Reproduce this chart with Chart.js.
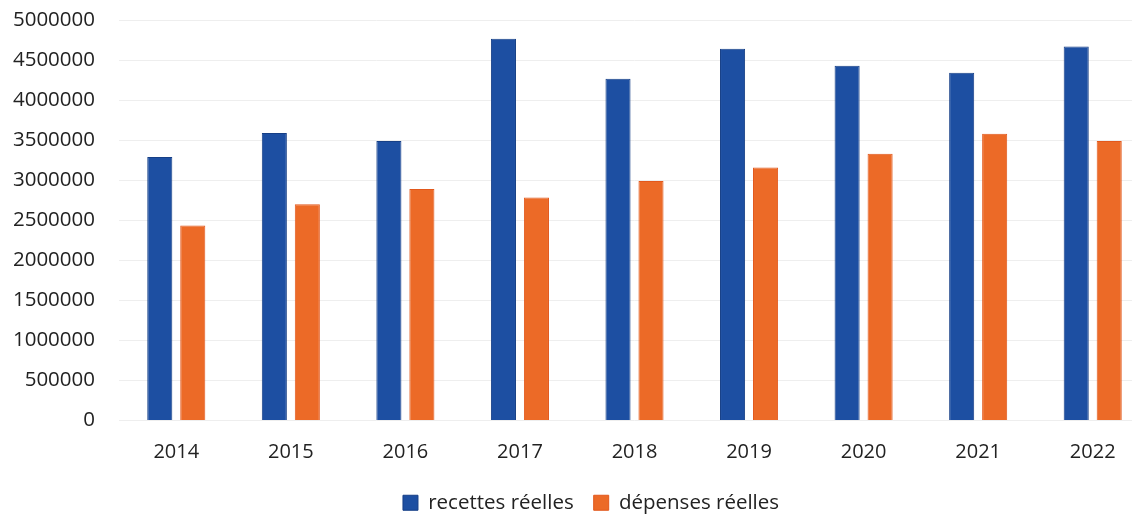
<!DOCTYPE html>
<html lang="fr">
<head>
    <meta charset="UTF-8">
    <title>Recettes et dépenses réelles</title>
    <script src="https://cdn.jsdelivr.net/npm/chart.js"></script>
    <style>
        body { margin: 0; background: #fff; overflow: hidden; }
        .wrap { width: 1150px; height: 515px; }
    </style>
</head>
<body>
    <div class="wrap">
        <canvas id="barChart"></canvas>
    </div>

    <script>
        // data
        const years = ['2014', '2015', '2016', '2017', '2018', '2019', '2020', '2021', '2022'];
        const recettes = [3290000, 3590000, 3490000, 4765000, 4265000, 4640000, 4430000, 4340000, 4670000];
        const depenses = [2435000, 2700000, 2890000, 2785000, 2990000, 3160000, 3330000, 3580000, 3490000];
        const yMax = 5000000;
        const yStep = 500000;

        const font = { family: "'Open Sans', sans-serif", size: 20 };

        // legend sits a bit right of centre and lower in the original
        const legendNudge = {
            id: 'legendNudge',
            afterLayout(chart) {
                const l = chart.legend;
                l.left += 16; l.right += 16;
                l.top += 8; l.bottom += 8;
            }
        };

        const data = {
            labels: years,
            datasets: [{
                label: 'recettes réelles',
                data: recettes,
                backgroundColor: '#1D4FA2',
                borderColor: '#163F86',
                borderWidth: 1
            },
            {
                label: 'dépenses réelles',
                data: depenses,
                backgroundColor: '#EC6A27',
                borderColor: '#E2581C',
                borderWidth: 1
            }]
        };

        const config = {
            type: 'bar',
            data: data,
            plugins: [legendNudge],
            options: {
                responsive: true,
                maintainAspectRatio: false,
                animation: false,
                categoryPercentage: 0.576,
                barPercentage: 0.76,
                layout: { padding: { left: 0, top: 20, right: 0, bottom: 0 } },
                plugins: {
                    legend: {
                        position: 'bottom',
                        labels: {
                            font: { family: font.family, size: 20.5 },
                            color: '#222',
                            boxWidth: 15,
                            boxHeight: 15,
                            padding: 20
                        }
                    },
                    tooltip: { enabled: false }
                },
                scales: {
                    x: {
                        grid: { display: false, drawTicks: false },
                        border: { display: false },
                        ticks: { font: font, color: '#222', padding: 20 },
                        afterFit: (scale) => { scale.height = 44; }
                    },
                    y: {
                        min: 0,
                        max: yMax,
                        // invisible tick marks give the gap, so the top padding stays small
                        grid: { color: '#eeeeee', drawTicks: true, tickLength: 24, tickColor: 'rgba(0,0,0,0)' },
                        border: { display: false },
                        ticks: {
                            stepSize: yStep,
                            font: { family: font.family, size: 20.5 },
                            color: '#222',
                            padding: 0,
                            callback: (v) => String(v)
                        },
                        afterFit: (scale) => { scale.width = 119; }
                    }
                }
            }
        };

        new Chart(document.getElementById('barChart').getContext('2d'), config);
    </script>
</body>
</html>
